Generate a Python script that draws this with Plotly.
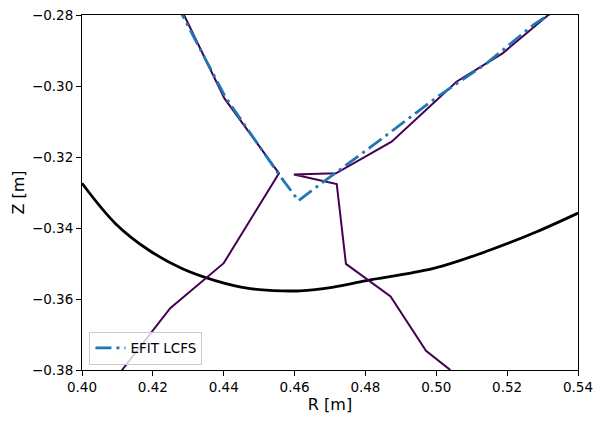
import plotly.graph_objects as go

# Wall / limiter curve (black)
wall_R = [0.400, 0.4094, 0.4188, 0.4282, 0.4376, 0.4470, 0.4569, 0.4615, 0.4706, 0.4803, 0.4992, 0.5152, 0.5280, 0.5400]
wall_Z = [-0.3274, -0.3387, -0.3462, -0.3514, -0.3548, -0.3570, -0.3577, -0.3577, -0.3567, -0.3548, -0.3514, -0.3462, -0.3412, -0.3358]

# Contour (separatrix) branches, purple
c1_R = [0.4280, 0.4288, 0.4402, 0.4556, 0.4400, 0.4249, 0.4113, 0.4080]
c1_Z = [-0.2784, -0.2800, -0.3035, -0.3246, -0.3499, -0.3626, -0.3800, -0.3843]

c2_R = [0.5340, 0.5316, 0.5187, 0.5057, 0.4874, 0.4717, 0.4598, 0.4719, 0.4745, 0.4871, 0.4971, 0.5037, 0.5060]
c2_Z = [-0.2780, -0.2800, -0.2908, -0.2988, -0.3157, -0.3246, -0.3249, -0.3276, -0.3501, -0.3593, -0.3746, -0.3798, -0.3830]

# EFIT LCFS (blue dash-dot)
lcfs_R = [0.4268, 0.4283, 0.4405, 0.4507, 0.4560, 0.4611, 0.4681, 0.4804, 0.5001, 0.5142, 0.5274, 0.5316, 0.5340]
lcfs_Z = [-0.2770, -0.2800, -0.3032, -0.3180, -0.3255, -0.3323, -0.3270, -0.3180, -0.3032, -0.2936, -0.2828, -0.2800, -0.2780]

x_ticks = [0.40, 0.42, 0.44, 0.46, 0.48, 0.50, 0.52, 0.54]
y_ticks = [-0.38, -0.36, -0.34, -0.32, -0.30, -0.28]

fig = go.Figure()
fig.add_trace(go.Scatter(x=wall_R, y=wall_Z, mode="lines", line=dict(color="black", width=2.8, shape="spline", smoothing=1.0), showlegend=False))
fig.add_trace(go.Scatter(x=c1_R, y=c1_Z, mode="lines", line=dict(color="#440154", width=2), showlegend=False))
fig.add_trace(go.Scatter(x=c2_R, y=c2_Z, mode="lines", line=dict(color="#440154", width=2), showlegend=False))
fig.add_trace(go.Scatter(x=lcfs_R, y=lcfs_Z, mode="lines", name="EFIT LCFS",
                         line=dict(color="#1f77b4", width=2.8, dash="16px,5px,3px,5px")))

axis_common = dict(showline=True, linecolor="black", linewidth=1.1, mirror=True,
                   ticks="outside", ticklen=5, tickwidth=1.1, tickcolor="black",
                   showgrid=False, zeroline=False, automargin=False,
                   tickfont=dict(family="DejaVu Sans", size=13.5, color="black"))

fig.update_layout(
    width=602, height=423,
    margin=dict(l=82, r=24, t=15, b=53),
    plot_bgcolor="white", paper_bgcolor="white",
    font=dict(family="DejaVu Sans", size=13.5, color="black"),
    xaxis=dict(range=[0.40, 0.54], tickvals=x_ticks, tickformat=".2f",
               title=dict(text="R [m]", standoff=3), **axis_common),
    yaxis=dict(range=[-0.38, -0.28], tickvals=y_ticks, tickformat=".2f",
               title=dict(text="Z [m]", standoff=3), **axis_common),
    legend=dict(x=0.015, y=0.015, xanchor="left", yanchor="bottom",
                bgcolor="rgba(255,255,255,0.8)", bordercolor="#cccccc", borderwidth=1,
                font=dict(family="DejaVu Sans", size=13.5)),
)

fig.write_html("out.html")
